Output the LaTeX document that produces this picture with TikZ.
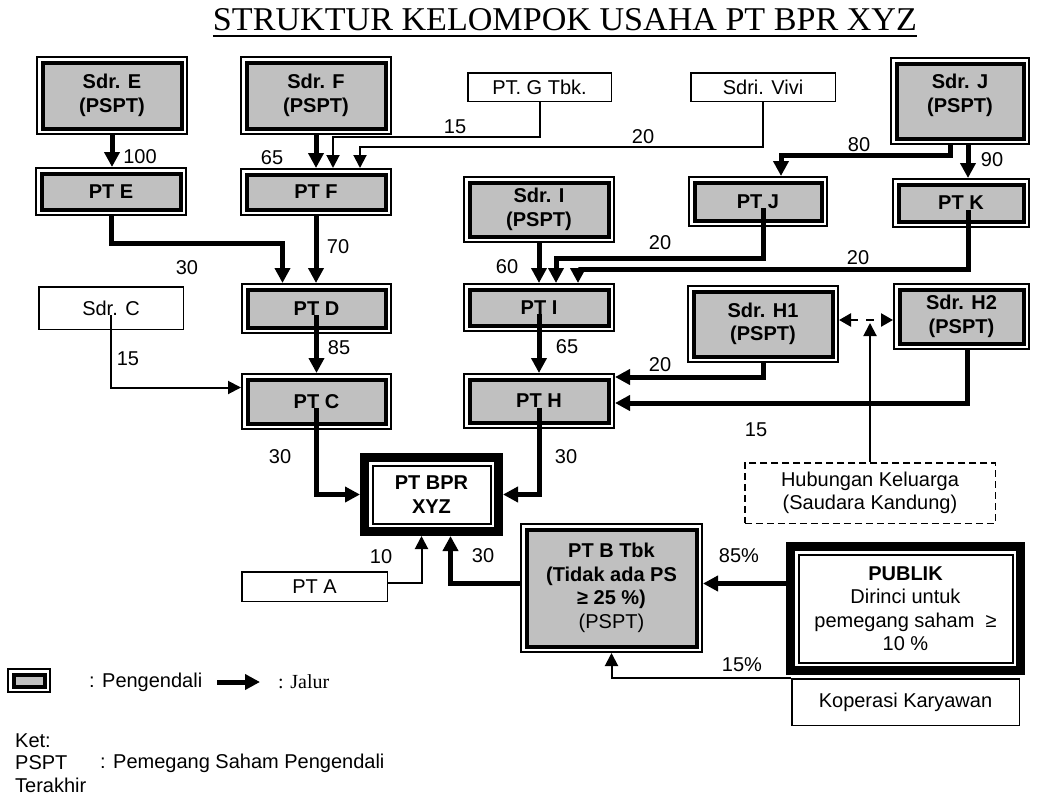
\documentclass[tikz,border=0pt]{standalone}
\usepackage{graphicx}
\usepackage{fontspec}
\setmainfont{Liberation Sans}
\newfontfamily\titleserif{Liberation Serif}
\usetikzlibrary{arrows.meta,calc}
\definecolor{ctrlgray}{HTML}{C0C0C0}
\newcommand{\boxfont}{\fontsize{20}{23.5}\selectfont}

\begin{document}
\begin{tikzpicture}[x=1pt, y=-1pt, every node/.style={font=\boxfont, inner sep=0pt}]
    \tikzstyle{ctrl}=[draw, line width=2pt, fill=white, align=center, font=\boxfont\bfseries,
        path picture={\draw[line width=4pt, fill=ctrlgray] ([shift={(5.5pt,-5.5pt)}]path picture bounding box.north west) rectangle ([shift={(-5.5pt,5.5pt)}]path picture bounding box.south east);}]
    \tikzstyle{bprbox}=[draw, line width=9pt, fill=white, align=center, font=\boxfont\bfseries,
        path picture={\draw[line width=2pt] ([shift={(8pt,-8pt)}]path picture bounding box.north west) rectangle ([shift={(-8pt,8pt)}]path picture bounding box.south east);}]
    \tikzstyle{ownerbox}=[draw, line width=1.5pt, fill=white, align=center]
    \tikzstyle{kinbox}=[draw, line width=1.5pt, dash pattern=on 7pt off 4pt, align=center]
    \tikzstyle{jalur}=[line width=5pt, -{Triangle[length=15pt,width=15pt]}]
    \tikzstyle{thinpath}=[line width=2pt, -{Triangle[length=13pt,width=13pt]}]
    \tikzstyle{kinarrow}=[line width=2.5pt, dash pattern=on 8pt off 8pt, {Triangle[length=12pt,width=13pt]}-{Triangle[length=12pt,width=13pt]}]
    \useasboundingbox (0,0) rectangle (1038,798);

    \node (title) at (565,20) {\titleserif\resizebox{704pt}{22pt}{STRUKTUR KELOMPOK USAHA PT BPR XYZ}};
    \draw[line width=2pt] ([yshift=-5pt]title.base west) -- ([yshift=-5pt]title.base east);

    \node[ctrl, minimum width=150pt, minimum height=77pt] (sdrE) at (112,95.5) {Sdr. E\\(PSPT)};
    \node[ctrl, minimum width=150pt, minimum height=77pt] (sdrF) at (316,95.5) {Sdr. F\\(PSPT)};
    \node[ownerbox, minimum width=143.5pt, minimum height=28.5pt] (ptG) at (539.5,87) {PT. G Tbk.};
    \node[ownerbox, minimum width=144.5pt, minimum height=28.5pt] (vivi) at (763,87) {Sdri. Vivi};
    \node[ctrl, minimum width=138pt, minimum height=86pt] (sdrJ) at (960,101) {Sdr. J\\(PSPT)\\[-8pt]};
    \node[ctrl, minimum width=150pt, minimum height=47pt] (ptE) at (111,191.5) {PT E};
    \node[ctrl, minimum width=150pt, minimum height=46pt] (ptF) at (316,192) {PT F};
    \node[ctrl, minimum width=150pt, minimum height=65pt] (sdrI) at (539,209.5) {Sdr. I\\(PSPT)};
    \node[ctrl, minimum width=138pt, minimum height=49pt] (ptJ) at (758,201.5) {PT J};
    \node[ctrl, minimum width=136pt, minimum height=48pt] (ptK) at (961,203) {PT K};
    \node[ownerbox, minimum width=144.5pt, minimum height=42.5pt] (sdrC) at (111,308) {Sdr. C};
    \node[ctrl, minimum width=149pt, minimum height=49pt] (ptD) at (316.5,308.5) {PT D};
    \node[ctrl, minimum width=150pt, minimum height=47pt] (ptI) at (539,307.5) {PT I};
    \node[ctrl, minimum width=150pt, minimum height=76pt] (sdrH1) at (763,324) {Sdr. H1\\(PSPT)};
    \node[ctrl, minimum width=135pt, minimum height=65pt] (sdrH2) at (961.5,316.5) {Sdr. H2\\(PSPT)};
    \node[ctrl, minimum width=149pt, minimum height=55pt] (ptC) at (316.5,401.5) {PT C};
    \node[ctrl, minimum width=150pt, minimum height=54pt] (ptH) at (539,401) {PT H};
    \node[bprbox, minimum width=134pt, minimum height=74pt] (bpr) at (431.5,494.5) {PT BPR\\XYZ};
    \node[kinbox, minimum width=250.5pt, minimum height=60.5pt] (hub) at (870,493) {Hubungan Keluarga\\(Saudara Kandung)};
    \node[ctrl, minimum width=181pt, minimum height=128pt] (ptB) at (611.5,588) {PT B Tbk\\(Tidak ada PS\\≥ 25 \%)\\\textmd{(PSPT)}};
    \node[bprbox, minimum width=230pt, minimum height=124pt] (publik) at (905.5,608.5) {PUBLIK\\\textmd{Dirinci untuk}\\\textmd{pemegang saham \ ≥}\\\textmd{10 \%}};
    \node[ownerbox, minimum width=145.5pt, minimum height=29.5pt] (ptA) at (314.5,586.5) {PT A};
    \node[ownerbox, minimum width=227.5pt, minimum height=46.5pt] (kop) at (905.5,702) {Koperasi Karyawan};

    \draw[jalur] (sdrE.south) -- (sdrE.south |- ptE.north);
    \draw[jalur] (sdrF.south) -- (sdrF.south |- ptF.north);
    \draw[thinpath] (ptG.south) -- ++(0,35) -| ([xshift=17pt]ptF.north);
    \draw[thinpath] (vivi.south) -- ++(0,45) -| ([xshift=44pt]ptF.north);
    \draw[jalur] ([xshift=-10pt]sdrJ.south) -- ++(0,10) -| ([xshift=23pt]ptJ.north);
    \draw[jalur] ([xshift=8pt]sdrJ.south) -- ([xshift=8pt]sdrJ.south |- ptK.north);
    \draw[jalur] (ptE.south) -- ++(0,27) -| ([xshift=-34pt]ptD.north);
    \draw[jalur] (ptF.south) -- (ptF.south |- ptD.north);
    \draw[jalur] (sdrI.south) -- (sdrI.south |- ptI.north);
    \draw[jalur] ([xshift=5pt]ptJ.base) -- ++(0,50) -| ([xshift=17pt]ptI.north);
    \draw[jalur] ([xshift=7pt]ptK.base) -- ++(0,60) -| ([xshift=39pt]ptI.north);
    \draw[jalur] (ptI.base) -- (ptI.base |- ptH.north);
    \draw[jalur] (ptD.base) -- (ptD.base |- ptC.north);
    \draw[thinpath] (sdrC.base) |- ([yshift=14pt]ptC.west);
    \draw[jalur] (ptC.base) |- (bpr.west);
    \draw[jalur] (ptH.base) |- (bpr.east);
    \draw[jalur] (sdrH1.south) |- ([yshift=24pt]ptH.east);
    \draw[jalur] ([xshift=6pt]sdrH2.south) |- ([yshift=-2pt]ptH.east);
    \draw[kinarrow] ([yshift=4pt]sdrH1.east) -- ([yshift=-3.5pt]sdrH2.west);
    \coordinate (kin) at ($([yshift=4pt]sdrH1.east)!0.5!([yshift=-3.5pt]sdrH2.west)$);
    \draw[thinpath] (hub.north) -- ([yshift=-3pt]hub.north |- kin);
    \draw[thinpath] ([yshift=3.5pt]ptA.east) -| ([xshift=-10pt]bpr.south);
    \draw[jalur] ([yshift=5pt]ptB.west) -| ([xshift=19pt]bpr.south);
    \draw[jalur] ([yshift=25pt]publik.west) -- ([yshift=25pt]publik.west -| ptB.east);
    \draw[thinpath] (kop.north west) -| (ptB.south);

    \node (n100) at (140,157) {100};
    \node (n65a) at (272,158) {65};
    \node (n15g) at (455,127) {15};
    \node (n20v) at (643,137) {20};
    \node (n80) at (859,145) {80};
    \node (n90) at (992,160) {90};
    \node (n70) at (338,247) {70};
    \node (n30e) at (187,268) {30};
    \node (n60) at (507,267) {60};
    \node (n20j) at (660,243) {20};
    \node (n20k) at (858,258) {20};
    \node (n85) at (339,348) {85};
    \node (n15c) at (128,359) {15};
    \node (n65i) at (567,347) {65};
    \node (n20h) at (660,365) {20};
    \node (n15h) at (756,430) {15};
    \node (n30c) at (280,457) {30};
    \node (n30h) at (566,457) {30};
    \node (n10) at (381,557) {10};
    \node (n30b) at (483,556) {30};
    \node (n85p) at (739,556) {85\%};
    \node (n15k) at (742,665) {15\%};

    \node[ctrl, minimum width=42pt, minimum height=23pt] (legctrl) at (29,680.5) {};
    \node[anchor=west] (pengendali) at (89,682) {: Pengendali};
    \node[anchor=west, font=\boxfont\titleserif] (jalurtxt) at (278,682) {: Jalur};
    \draw[jalur] ([xshift=-61pt]jalurtxt.west) -- ([xshift=-18pt]jalurtxt.west);
    \node[anchor=west] (ket) at (15,741) {Ket:};
    \node[anchor=west] (pspt) at (15,763) {PSPT};
    \node[anchor=west] (psptdef) at (100,763) {: Pemegang Saham Pengendali};
    \node[anchor=west] (terakhir) at (15,785) {Terakhir};
\end{tikzpicture}
\end{document}
